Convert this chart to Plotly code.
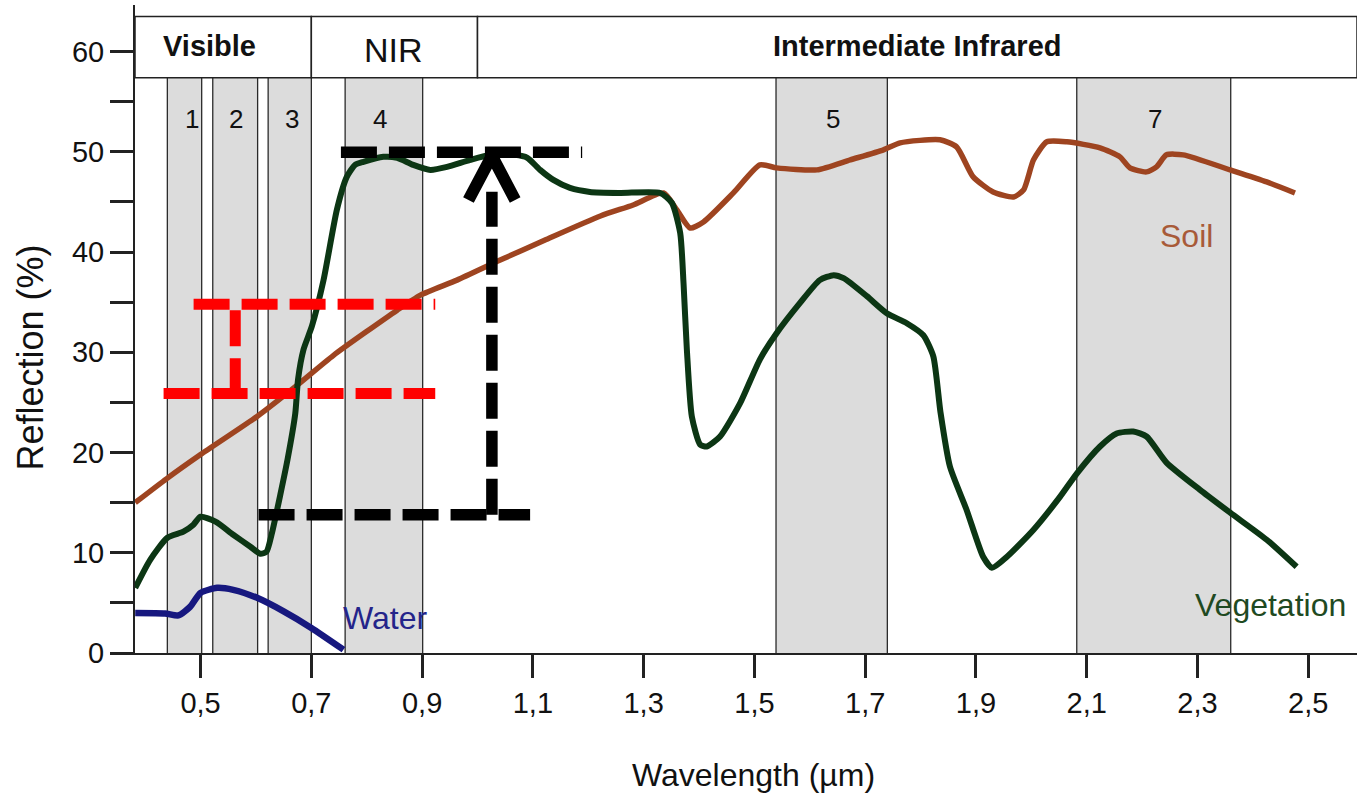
import plotly.graph_objects as go

# ---------------- data ----------------
soil_wl = [0.382, 0.439, 0.500, 0.602, 0.674, 0.740, 0.855, 0.897, 0.963, 1.041, 1.122, 1.222,
           1.281, 1.336, 1.360, 1.384, 1.408, 1.462, 1.510, 1.540, 1.613, 1.673, 1.733, 1.763,
           1.835, 1.865, 1.895, 1.931, 1.968, 1.986, 2.004, 2.028, 2.064, 2.124, 2.160, 2.178,
           2.208, 2.226, 2.244, 2.274, 2.359, 2.425, 2.476]
soil_refl = [15.0, 17.4, 19.8, 23.6, 26.7, 29.7, 34.2, 35.7, 37.2, 39.2, 41.2, 43.6,
             44.7, 45.9, 44.2, 42.4, 43.0, 45.9, 48.7, 48.4, 48.2, 49.2, 50.2, 50.9,
             51.2, 50.5, 47.5, 46.0, 45.5, 46.2, 49.2, 51.0, 51.0, 50.4, 49.5, 48.4,
             48.0, 48.5, 49.7, 49.7, 48.2, 47.0, 45.9]

veg_wl = [0.382, 0.409, 0.440, 0.469, 0.487, 0.500, 0.527, 0.559, 0.590, 0.608, 0.619, 0.629,
          0.644, 0.657, 0.671, 0.676, 0.686, 0.701, 0.722, 0.746, 0.764, 0.779, 0.794, 0.830,
          0.855, 0.884, 0.915, 0.945, 0.987, 1.024, 1.068, 1.090, 1.113, 1.137, 1.167, 1.203,
          1.258, 1.330, 1.351, 1.366, 1.372, 1.378, 1.387, 1.402, 1.414, 1.438, 1.474, 1.510,
          1.540, 1.582, 1.618, 1.643, 1.661, 1.703, 1.739, 1.775, 1.805, 1.823, 1.836, 1.853,
          1.883, 1.913, 1.929, 1.956, 2.004, 2.052, 2.082, 2.124, 2.154, 2.184, 2.208, 2.244,
          2.304, 2.359, 2.425, 2.479]
veg_refl = [6.5, 9.3, 11.5, 12.1, 12.8, 13.6, 13.1, 11.8, 10.6, 9.9, 10.1, 12.0,
            15.8, 19.3, 23.9, 27.3, 30.3, 32.6, 37.2, 44.2, 47.5, 48.7, 49.0, 49.5,
            49.4, 48.7, 48.2, 48.5, 49.2, 49.7, 49.7, 49.4, 48.2, 47.2, 46.4, 46.0,
            45.9, 45.9, 44.9, 41.9, 36.9, 30.3, 23.6, 20.8, 20.6, 21.6, 24.9, 29.3,
            31.9, 34.9, 37.2, 37.7, 37.4, 35.6, 33.9, 32.9, 31.7, 29.6, 24.0, 18.6,
            14.3, 9.6, 8.5, 9.6, 12.3, 15.6, 17.9, 20.6, 21.9, 22.1, 21.6, 19.0,
            16.3, 14.0, 11.3, 8.6]

water_wl = [0.382, 0.436, 0.460, 0.481, 0.500, 0.530, 0.559, 0.602, 0.650, 0.700, 0.758]
water_refl = [4.0, 3.95, 3.75, 4.6, 6.0, 6.5, 6.3, 5.5, 4.15, 2.5, 0.33]

# Landsat TM bands (µm)
band_names = ["1", "2", "3", "4", "5", "7"]
band_start = [0.440, 0.522, 0.622, 0.761, 1.539, 2.082]
band_end = [0.502, 0.603, 0.700, 0.901, 1.740, 2.360]
band_label_x = [0.4845, 0.5644, 0.665, 0.8244, 1.642, 2.223]

# spectral regions (header)
region_names = ["<b>Visible</b>", "NIR", "<b>Intermediate Infrared</b>"]
region_start = [0.3816, 0.700, 1.000]
region_end = [0.700, 1.000, 2.588]
region_label_x = [0.5162, 0.8478, 1.7937]

x_ticks = [0.5, 0.7, 0.9, 1.1, 1.3, 1.5, 1.7, 1.9, 2.1, 2.3, 2.5]
x_ticktext = ["0,5", "0,7", "0,9", "1,1", "1,3", "1,5", "1,7", "1,9", "2,1", "2,3", "2,5"]
y_ticks = [0, 5, 10, 15, 20, 25, 30, 35, 40, 45, 50, 55, 60]
y_ticktext = ["0", "", "10", "", "20", "", "30", "", "40", "", "50", "", "60"]

# guide lines (µm, %)
red_h_y = [34.8, 25.9]
red_h_x0 = [0.4874, 0.4332]
red_h_x1 = [0.9237, 0.9237]
red_v_x = 0.5626
red_v_y = [34.2, 25.9]
black_h_y = [49.96, 13.79]
black_h_x0 = [0.7534, 0.6047]
black_h_x1 = [1.189, 1.095]
black_v_x = 1.026
black_v_y = [13.79, 46.03]
arrow_x = [0.9837, 1.026, 1.068]
arrow_y = [45.19, 49.61, 45.19]

X_RANGE = [0.3816, 2.588]
Y_RANGE = [0, 64.65]
HEADER_Y = [57.4, 63.5]

FONT = "Arial, Liberation Sans, sans-serif"

fig = go.Figure()

fig.add_trace(go.Scatter(x=soil_wl, y=soil_refl, mode="lines",
                         line=dict(color="#9e4420", width=5.5, shape="spline", smoothing=0.6),
                         hoverinfo="skip"))
fig.add_trace(go.Scatter(x=veg_wl, y=veg_refl, mode="lines",
                         line=dict(color="#0c3614", width=6, shape="spline", smoothing=0.6),
                         hoverinfo="skip"))
fig.add_trace(go.Scatter(x=water_wl, y=water_refl, mode="lines",
                         line=dict(color="#17187f", width=6.5, shape="spline", smoothing=0.6),
                         hoverinfo="skip"))

shapes = []
# grey bands + edges
for s, e in zip(band_start, band_end):
    shapes.append(dict(type="rect", xref="x", yref="y", x0=s, x1=e, y0=0, y1=HEADER_Y[0],
                       fillcolor="#dcdcdc", line=dict(width=0), layer="below"))
    for v in (s, e):
        shapes.append(dict(type="line", xref="x", yref="y", x0=v, x1=v, y0=0, y1=HEADER_Y[0],
                           line=dict(color="#2a2a2a", width=1.3), layer="below"))

# header boxes
for s, e in zip(region_start, region_end):
    shapes.append(dict(type="rect", xref="x", yref="y", x0=s, x1=e, y0=HEADER_Y[0], y1=HEADER_Y[1],
                       fillcolor="white", line=dict(color="#222222", width=1.5), layer="above"))

# red guide lines
for yv, a, b in zip(red_h_y, red_h_x0, red_h_x1):
    shapes.append(dict(type="line", xref="x", yref="y", x0=a, x1=b, y0=yv, y1=yv,
                       line=dict(color="#ff0000", width=11, dash="36px,12px"), layer="above"))
shapes.append(dict(type="line", xref="x", yref="y", x0=red_v_x, x1=red_v_x, y0=red_v_y[0], y1=red_v_y[1],
                   line=dict(color="#ff0000", width=11, dash="36px,12px"), layer="above"))

# black guide lines
for yv, a, b in zip(black_h_y, black_h_x0, black_h_x1):
    shapes.append(dict(type="line", xref="x", yref="y", x0=a, x1=b, y0=yv, y1=yv,
                       line=dict(color="#000000", width=11.5, dash="36px,12px"), layer="above"))
shapes.append(dict(type="line", xref="x", yref="y", x0=black_v_x, x1=black_v_x, y0=black_v_y[0], y1=black_v_y[1],
                   line=dict(color="#000000", width=11.5, dash="36px,12px"), layer="above"))

fig.update_layout(shapes=shapes)

# arrow head (chevron)
fig.add_trace(go.Scatter(x=arrow_x, y=arrow_y, mode="lines",
                         line=dict(color="#000000", width=12), hoverinfo="skip"))

annotations = []
for name, xv in zip(region_names, region_label_x):
    size = 34 if name == "NIR" else 29
    yv = 60.2 if name == "NIR" else 60.55
    annotations.append(dict(x=xv, y=yv, xref="x", yref="y", text=name, showarrow=False,
                            font=dict(family=FONT, size=size, color="#111111")))
for name, xv in zip(band_names, band_label_x):
    annotations.append(dict(x=xv, y=53.3, xref="x", yref="y", text=name, showarrow=False,
                            font=dict(family=FONT, size=26, color="#111111")))

annotations += [
    dict(x=2.2795, y=41.6, xref="x", yref="y", text="Soil", showarrow=False,
         font=dict(family=FONT, size=32, color="#a85a38")),
    dict(x=0.8334, y=3.5, xref="x", yref="y", text="Water", showarrow=False,
         font=dict(family=FONT, size=32, color="#24248a")),
    dict(x=2.4327, y=4.8, xref="x", yref="y", text="Vegetation", showarrow=False,
         font=dict(family=FONT, size=32, color="#1f4a22")),
    dict(x=0.5065, y=-0.188, xref="paper", yref="paper", text="Wavelength (µm)", showarrow=False,
         xanchor="center", yanchor="middle",
         font=dict(family=FONT, size=32, color="#111111")),
    dict(x=-0.0851, y=0.456, xref="paper", yref="paper", text="Reflection (%)", showarrow=False,
         xanchor="center", yanchor="middle", textangle=-90,
         font=dict(family=FONT, size=36, color="#111111")),
]
fig.update_layout(annotations=annotations)

fig.update_xaxes(range=X_RANGE, tickvals=x_ticks, ticktext=x_ticktext,
                 showline=True, linecolor="#222222", linewidth=2,
                 ticks="outside", ticklen=23, tickwidth=2.5, tickcolor="#222222",
                 showgrid=False, zeroline=False,
                 tickfont=dict(family=FONT, size=29, color="#111111"))
fig.update_yaxes(range=Y_RANGE, tickvals=y_ticks, ticktext=y_ticktext,
                 showline=True, linecolor="#222222", linewidth=2,
                 ticks="outside", ticklen=23, tickwidth=2.5, tickcolor="#222222",
                 showgrid=False, zeroline=False,
                 tickfont=dict(family=FONT, size=29, color="#111111"))

fig.update_layout(width=1357, height=798, showlegend=False,
                  margin=dict(l=135, r=0, t=5, b=145),
                  plot_bgcolor="white", paper_bgcolor="white")

fig.write_html("out.html")
